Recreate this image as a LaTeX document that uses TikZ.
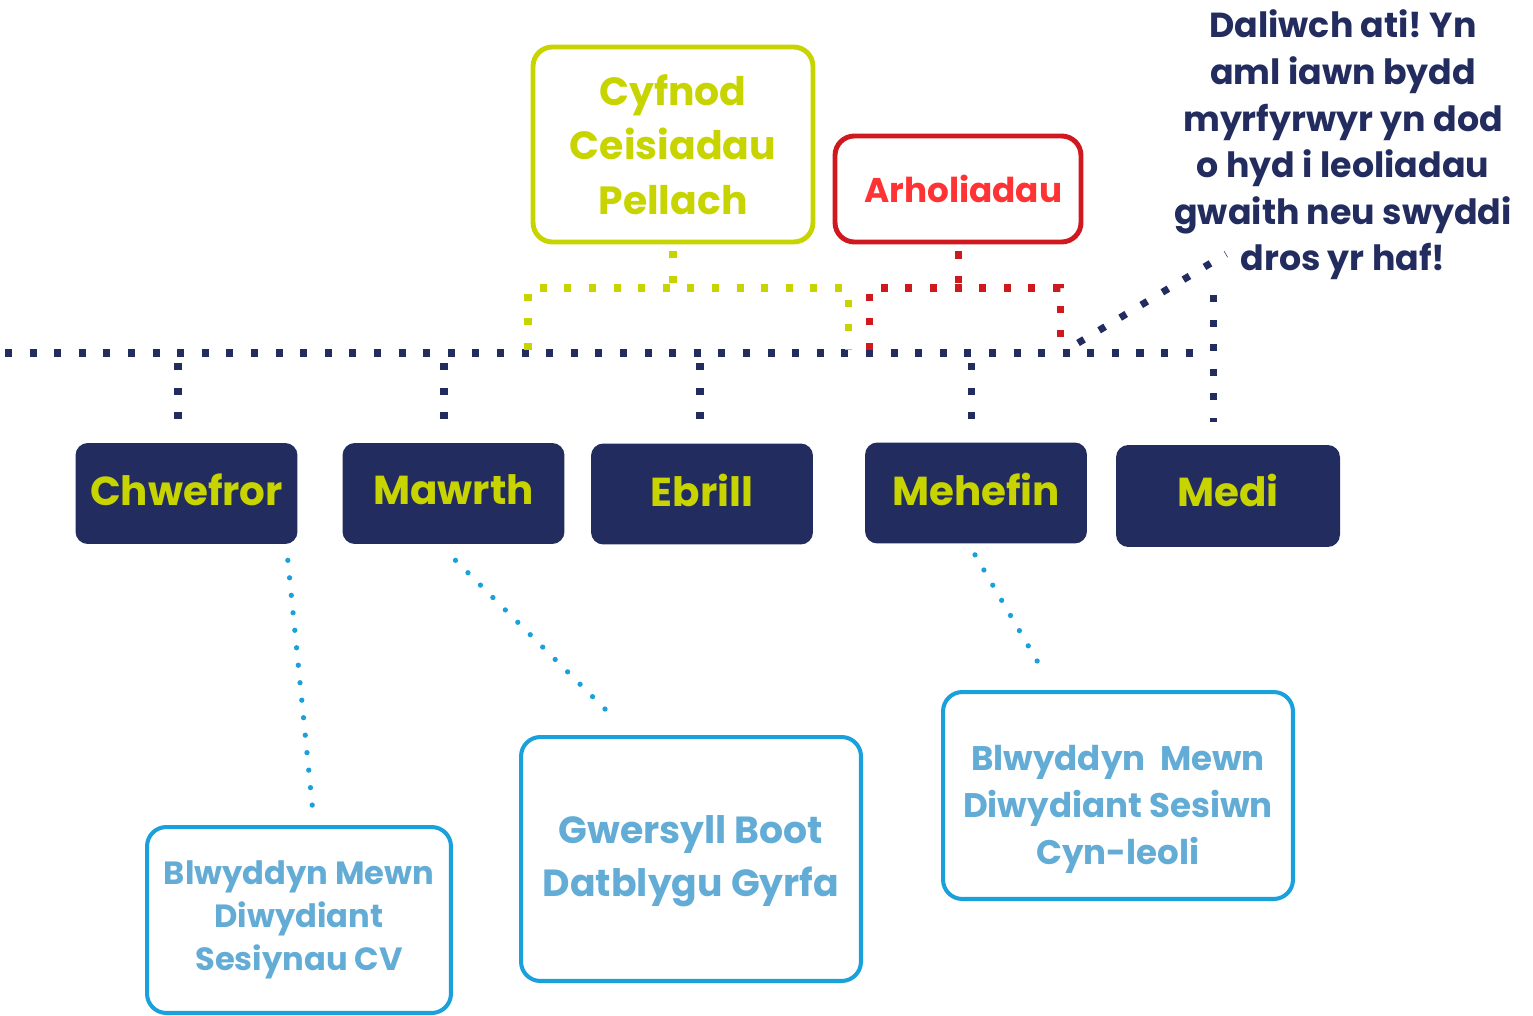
\documentclass[tikz,border=0pt]{standalone}
\usepackage{fontspec}
\setmainfont{Poppins}
\frenchspacing
\usetikzlibrary{calc}
\definecolor{navy}{RGB}{35,44,94}
\definecolor{ygreen}{RGB}{200,212,0}
\definecolor{redb}{RGB}{208,24,31}
\definecolor{redt}{RGB}{255,51,51}
\definecolor{blueb}{RGB}{26,160,219}
\definecolor{bluet}{RGB}{98,172,214}
\begin{document}
\begin{tikzpicture}[x=0.02cm,y=-0.02cm,
  month/.style={fill=navy, rounded corners=7pt, text=ygreen, inner sep=0pt, text depth=4.5pt,
    font=\fontsize{23}{28}\selectfont\bfseries, minimum width=4.44cm, minimum height=2.02cm},
  infobox/.style={draw=blueb, line width=2.3pt, rounded corners=11pt, text=bluet, align=center, inner sep=0pt},
  sqdot/.style={line width=4pt, dash pattern=on 4pt off 10pt},
  navydot/.style={sqdot, draw=navy},
  ydot/.style={sqdot, draw=ygreen},
  rdot/.style={sqdot, draw=redb},
  bdot/.style={draw=blueb, line width=3pt, line cap=round, dash pattern=on 0pt off 10pt}]
\useasboundingbox (0,0) rectangle (1533,1016);

% month boxes
\node[month] (chw) at (186.5,493.5) {Chwefror};
\node[month] (maw) at (453.5,493.5) {Mawrth};
\node[month] (ebr) at (702,494) {Ebrill};
\node[month] (meh) at (976,493) {Mehefin};
\node[month, minimum width=4.48cm, minimum height=2.04cm, text depth=7pt] (med) at (1228,496) {Medi};

% top boxes
\node[draw=ygreen, line width=2.8pt, rounded corners=11pt, text=ygreen, align=center,
  minimum width=5.6cm, minimum height=3.9cm, inner sep=0pt,
  font=\fontsize{22.4}{31}\selectfont\bfseries] (cyf) at (673,144.5) {Cyfnod\\Ceisiadau\\Pellach};
\node[draw=redb, line width=2.8pt, rounded corners=11pt, text=redt,
  minimum width=4.92cm, minimum height=2.12cm, inner sep=0pt,
  font=\fontsize{19.5}{24}\selectfont\bfseries] (arh) at (958,189) {\hspace*{6pt}Arholiadau};

% note text
\node[text=navy, align=center, inner sep=0pt, font=\fontsize{19.8}{26.5}\selectfont\bfseries]
  (note) at (1343,145) {Daliwch ati! Yn\\aml iawn bydd\\myrfyrwyr yn dod\\o hyd i leoliadau\\gwaith neu swyddi\\dros yr haf!};

% info boxes
\node[infobox, minimum width=6.08cm, minimum height=3.72cm,
  font=\fontsize{18.3}{24.6}\selectfont\bfseries] (b1) at (299,920) {Blwyddyn Mewn\\Diwydiant\\Sesiynau CV};
\node[infobox, minimum width=6.8cm, minimum height=4.88cm, text depth=3pt,
  font=\fontsize{21.5}{30}\selectfont\bfseries] (b2) at (691,859) {Gwersyll Boot\\Datblygu Gyrfa};
\node[draw=blueb, line width=2.3pt, rounded corners=11pt, inner sep=0pt,
  minimum width=7.0cm, minimum height=4.14cm,
  label={[text=bluet, align=center, inner sep=0pt, yshift=-8pt,
    font=\fontsize{19.4}{26.6}\selectfont\bfseries]center:{Blwyddyn\ \ Mewn\\Diwydiant Sesiwn\\Cyn-leoli}}]
  (b3) at (1118,795.5) {};

% main timeline
\coordinate (L) at (5,353);
\coordinate (R) at (1205,353);
\draw[navydot] (L) -- (R);

% drops to months
\coordinate (dchw) at (178,363);
\coordinate (dmaw) at (444,363);
\coordinate (debr) at (700,363);
\coordinate (dmeh) at (971,363);
\coordinate (dmed) at (1213,295);
\draw[navydot, shorten >=12pt] (dchw) -- (dchw |- chw.north);
\draw[navydot, shorten >=12pt] (dmaw) -- (dmaw |- maw.north);
\draw[navydot, shorten >=12pt] (debr) -- (debr |- ebr.north);
\draw[navydot, shorten >=12pt] (dmeh) -- (dmeh |- meh.north);
\draw[navydot, shorten >=13pt] (dmed) -- (dmed |- med.north);

% diagonal to note
\coordinate (dg) at (1078,343);
\coordinate (dgEnd) at (1226,254);
\draw[navydot] (dg) -- (dgEnd);

% yellow bracket
\coordinate (ybar) at (0,288);
\coordinate (yl) at (528,350);
\coordinate (yr) at (848,350);
\draw[ydot, shorten <=4pt] (cyf.south) -- (cyf.south |- ybar);
\draw[ydot] (yl) |- (yr |- ybar) -- (yr);

% red bracket
\coordinate (rl) at (869,350);
\coordinate (rr) at (1060,350);
\draw[rdot, shorten <=4pt] (arh.south) -- (arh.south |- ybar);
\draw[rdot] (rl) |- (rr |- ybar) -- (rr);

% blue connectors
\draw[bdot] ($(chw.south east)+(-10,16)$) -- ($(b1.north)+(14,-12)$);
\draw[bdot] ($(maw.south)+(2,16)$) -- ($(b2.north)+(-77,-17)$);
\draw[bdot] ($(meh.south)+(-1,11)$) -- ($(b3.north)+(-75,-19)$);
\end{tikzpicture}
\end{document}
